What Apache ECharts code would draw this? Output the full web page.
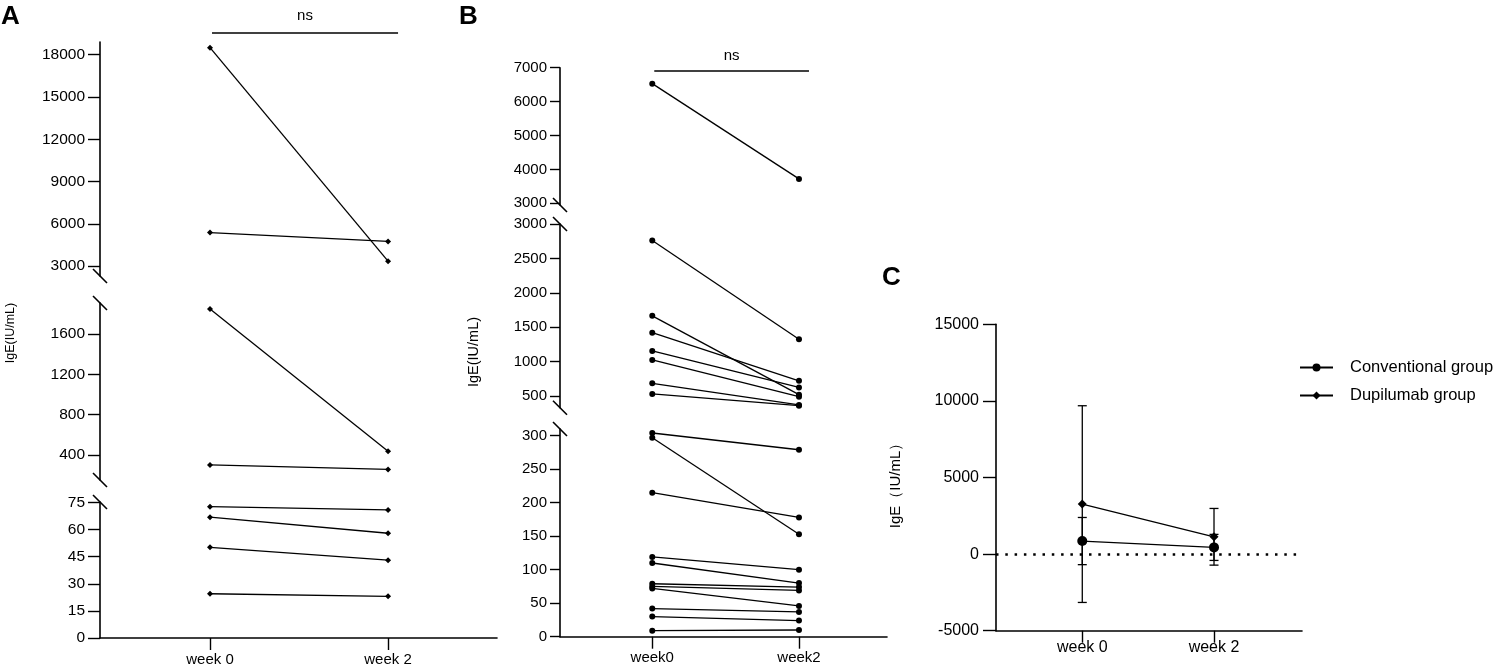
<!DOCTYPE html>
<html>
<head>
<meta charset="utf-8">
<script src="https://cdn.jsdelivr.net/npm/echarts@6/dist/echarts.min.js"></script>
<style>
html, body { margin: 0; padding: 0; background: #fff; }
#chart { width: 1497px; height: 667px; }
</style>
</head>
<body>
<div id="chart"></div>
<script>
// ---- data ----
var categoriesA = ['week 0', 'week 2'];
var categoriesB = ['week0', 'week2'];
var categoriesC = ['week 0', 'week 2'];

// panel A, one subject per index
var aWeek0 = [18500, 5380, 1850, 300, 72.7, 66.9, 50.2, 24.5];
var aWeek2 = [3350, 4750, 435, 255, 70.9, 58, 43.1, 23.1];
var aTicksTop = [3000, 6000, 9000, 12000, 15000, 18000];
var aTicksMid = [400, 800, 1200, 1600];
var aTicksLow = [0, 15, 30, 45, 60, 75];

// panel B, one subject per index
var bWeek0 = [6530, 2760, 1665, 1420, 1155, 1025, 685, 530, 304, 297, 215, 119, 110, 79, 75, 72, 42, 30, 9];
var bWeek2 = [3720, 1325, 520, 720, 625, 490, 370, 360, 279, 153, 178, 100, 80, 74, 69, 46, 37, 24, 10];
var bTicksTop = [3000, 4000, 5000, 6000, 7000];
var bTicksMid = [500, 1000, 1500, 2000, 2500, 3000];
var bTicksLow = [0, 50, 100, 150, 200, 250, 300];

// panel C, mean and SD
var cGroups = ['Conventional group', 'Dupilumab group'];
var cConvMean = [850, 437];
var cConvSd = [1540, 850];
var cDupMean = [3264, 1130];
var cDupSd = [6420, 1850];

var FONT = '"Liberation Sans", Arial, sans-serif';
function plain(v) { return String(v); }

// broken axis pieces (top to bottom)
var aPieces = [
    {min: 2300, max: 18900, top: 42, height: 234, ticks: aTicksTop},
    {min: 150, max: 1910, top: 303, height: 177, ticks: aTicksMid},
    {min: 0, max: 75.3, top: 502, height: 138, ticks: aTicksLow}
];
var bPieces = [
    {min: 2950, max: 7000, top: 67.7, height: 137.3, ticks: bTicksTop},
    {min: 330, max: 3000, top: 224, height: 183.7, ticks: bTicksMid},
    {min: 0, max: 310, top: 429, height: 207.7, ticks: bTicksLow}
];

var grids = [], xAxes = [], yAxes = [], series = [];

function addPanel(pieces, cfg, week0, week2) {
    var first = grids.length;
    pieces.forEach(function (p, k) {
        var gi = grids.length;
        var isLow = k == pieces.length - 1;
        grids.push({left: cfg.left, top: p.top, width: cfg.width, height: p.height});
        xAxes.push({
            type: 'value', gridIndex: gi, min: cfg.xMin, max: cfg.xMax, show: isLow,
            axisLine: {show: true, onZero: false, lineStyle: {color: '#000', width: 1.6}},
            axisTick: {show: true, length: 12, customValues: [0, 1], lineStyle: {color: '#000', width: 1.4}},
            axisLabel: {customValues: [0, 1], color: '#000', fontSize: cfg.xFont, fontFamily: FONT, margin: 14,
                formatter: function (v) { return cfg.cats[Math.round(v)]; }},
            splitLine: {show: false}
        });
        yAxes.push({
            type: 'value', gridIndex: gi, min: p.min, max: p.max,
            axisLine: {show: true, onZero: false, lineStyle: {color: '#000', width: 1.6}},
            axisTick: {show: true, length: cfg.tickLen, customValues: p.ticks, lineStyle: {color: '#000', width: 1.4}},
            axisLabel: {customValues: p.ticks, color: '#000', fontSize: cfg.yFont, fontFamily: FONT,
                margin: cfg.tickLen + 3, formatter: plain},
            splitLine: {show: false}
        });
    });
    week0.forEach(function (v0, i) {
        var k = 0;
        for (var j = 0; j < pieces.length; j++) {
            if (v0 >= pieces[j].min && v0 <= pieces[j].max) k = j;
        }
        series.push({
            type: 'line', xAxisIndex: first + k, yAxisIndex: first + k,
            data: [[0, v0], [1, week2[i]]],
            symbol: cfg.symbol, symbolSize: cfg.symbolSize,
            lineStyle: {color: '#000', width: 1.3},
            itemStyle: {color: '#000'},
            silent: true, animation: false
        });
    });
    return first;
}

var aFirst = addPanel(aPieces, {left: 100, width: 397, xMin: -0.618, xMax: 1.612, cats: categoriesA,
    xFont: 15, yFont: 15.5, tickLen: 12, symbol: 'diamond', symbolSize: 6}, aWeek0, aWeek2);
var bFirst = addPanel(bPieces, {left: 560, width: 327, xMin: -0.629, xMax: 1.60, cats: categoriesB,
    xFont: 15, yFont: 15, tickLen: 10, symbol: 'circle', symbolSize: 6}, bWeek0, bWeek2);

// panel C
var cGrid = grids.length;
grids.push({left: 996, top: 324.3, width: 306, height: 306.4});
xAxes.push({
    type: 'value', gridIndex: cGrid, min: -0.655, max: 1.668,
    axisLine: {show: true, onZero: false, lineStyle: {color: '#000', width: 1.6}},
    axisTick: {show: true, length: 12, customValues: [0, 1], lineStyle: {color: '#000', width: 1.4}},
    axisLabel: {customValues: [0, 1], color: '#000', fontSize: 16, fontFamily: FONT, margin: 9,
        formatter: function (v) { return categoriesC[Math.round(v)]; }},
    splitLine: {show: false}
});
yAxes.push({
    type: 'value', gridIndex: cGrid, min: -5000, max: 15000, interval: 5000,
    axisLine: {show: true, onZero: false, lineStyle: {color: '#000', width: 1.6}},
    axisTick: {show: true, length: 13, lineStyle: {color: '#000', width: 1.4}},
    axisLabel: {color: '#000', fontSize: 16, fontFamily: FONT, margin: 17, formatter: plain},
    splitLine: {show: false}
});

function errorData(mean, sd) {
    return mean.map(function (m, i) { return [i, m - sd[i], m + sd[i]]; });
}
function renderErr(params, api) {
    var lo = api.coord([api.value(0), api.value(1)]);
    var hi = api.coord([api.value(0), api.value(2)]);
    var w = 4.5;
    var st = {stroke: '#000', lineWidth: 1.3};
    return {type: 'group', children: [
        {type: 'line', shape: {x1: lo[0], y1: lo[1], x2: hi[0], y2: hi[1]}, style: st},
        {type: 'line', shape: {x1: lo[0] - w, y1: lo[1], x2: lo[0] + w, y2: lo[1]}, style: st},
        {type: 'line', shape: {x1: hi[0] - w, y1: hi[1], x2: hi[0] + w, y2: hi[1]}, style: st}
    ]};
}
series.push({type: 'custom', xAxisIndex: cGrid, yAxisIndex: cGrid, renderItem: renderErr,
    data: errorData(cDupMean, cDupSd), encode: {x: 0, y: [1, 2]}, silent: true, z: 1});
series.push({type: 'custom', xAxisIndex: cGrid, yAxisIndex: cGrid, renderItem: renderErr,
    data: errorData(cConvMean, cConvSd), encode: {x: 0, y: [1, 2]}, silent: true, z: 1});
series.push({
    name: cGroups[0], type: 'line', xAxisIndex: cGrid, yAxisIndex: cGrid,
    data: cConvMean.map(function (v, i) { return [i, v]; }),
    symbol: 'circle', symbolSize: 10,
    lineStyle: {color: '#000', width: 1.3}, itemStyle: {color: '#000'}, z: 3,
    markLine: {
        silent: true, symbol: 'none', label: {show: false},
        lineStyle: {color: '#000', width: 2.5, type: [2.5, 6.8]},
        data: [{yAxis: 0}]
    }
});
series.push({
    name: cGroups[1], type: 'line', xAxisIndex: cGrid, yAxisIndex: cGrid,
    data: cDupMean.map(function (v, i) { return [i, v]; }),
    symbol: 'diamond', symbolSize: 9,
    lineStyle: {color: '#000', width: 1.3}, itemStyle: {color: '#000'}, z: 3
});

var chart = echarts.init(document.getElementById('chart'));
var option = {
    backgroundColor: '#fff',
    animation: false,
    grid: grids,
    xAxis: xAxes,
    yAxis: yAxes,
    legend: {
        data: cGroups, orient: 'vertical', left: 1294, top: 354,
        itemWidth: 33, itemHeight: 10, itemGap: 11,
        textStyle: {color: '#000', fontSize: 16.5, fontFamily: FONT, padding: [0, 0, 0, 12]},
        selectedMode: false
    },
    series: series
};
chart.setOption(option);

// decorations: break marks, ns bars, titles
function px(gi, x, y) { return chart.convertToPixel({gridIndex: gi}, [x, y]); }
var deco = [];
function slash(p) {
    deco.push({type: 'line', shape: {x1: p[0] - 7, y1: p[1] - 7, x2: p[0] + 7, y2: p[1] + 7},
        style: {stroke: '#000', lineWidth: 1.6}});
}
function breaks(first, pieces, xMin) {
    pieces.forEach(function (p, k) {
        if (k < pieces.length - 1) slash(px(first + k, xMin, p.min));
        if (k > 0) slash(px(first + k, xMin, p.max));
    });
}
breaks(aFirst, aPieces, -0.618);
breaks(bFirst, bPieces, -0.629);

function nsBar(gi, dy, textDy) {
    var p0 = px(gi, 0, 0), p1 = px(gi, 1, 0);
    var y = grids[gi].top + dy;
    deco.push({type: 'line', shape: {x1: p0[0] + 2, y1: y, x2: p1[0] + 10, y2: y},
        style: {stroke: '#000', lineWidth: 1.6}});
    deco.push({type: 'text', x: (p0[0] + p1[0] + 12) / 2, y: y - textDy,
        style: {text: 'ns', fill: '#000', font: '15px ' + FONT, align: 'center', verticalAlign: 'middle'}});
}
nsBar(aFirst, -9, 17);
nsBar(bFirst, 3.3, 15);

function letter(t, x, y) {
    deco.push({type: 'text', x: x, y: y,
        style: {text: t, fill: '#000', font: 'bold 26px ' + FONT}});
}
letter('A', 1, 4);
letter('B', 459, 4);
letter('C', 882, 265);

function yTitle(t, x, y, size) {
    deco.push({type: 'text', x: x, y: y, rotation: Math.PI / 2,
        style: {text: t, fill: '#000', font: size + 'px ' + FONT, align: 'center', verticalAlign: 'middle'}});
}
yTitle('IgE(IU/mL)', 11, 333, 12.5);
yTitle('IgE(IU/mL)', 474, 352, 14.5);
yTitle('IgE（IU/mL）', 896, 482, 15);

chart.setOption({graphic: deco});
</script>
</body>
</html>
